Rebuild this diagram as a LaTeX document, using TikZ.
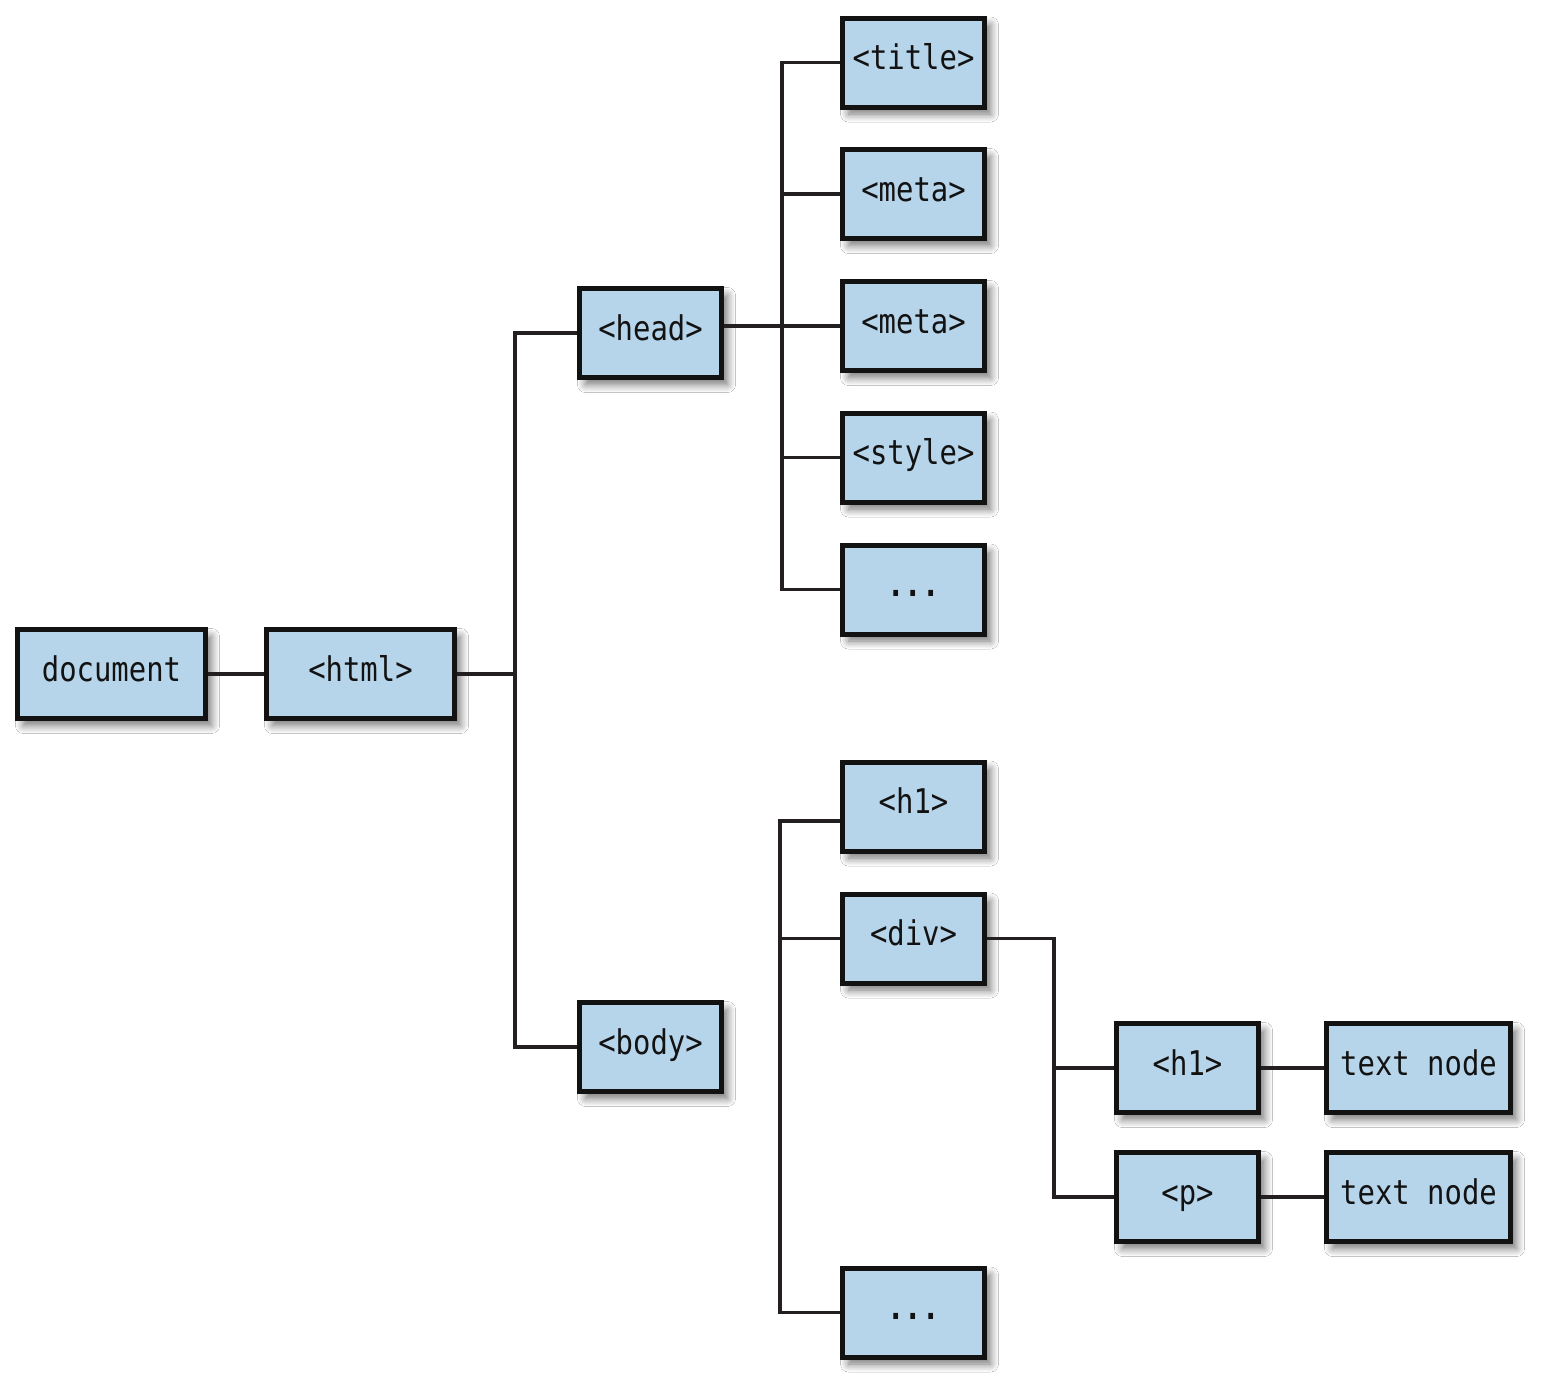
\documentclass[tikz,border=0pt]{standalone}
\usepackage{fontspec}
\newfontfamily\boxfont[FakeStretch=0.85]{DejaVu Sans Mono}
\usetikzlibrary{shadows.blur}
\definecolor{boxfill}{RGB}{182,212,234}
\definecolor{boxline}{RGB}{18,18,18}
\definecolor{conn}{RGB}{35,31,32}
\tikzset{
  domnode/.style={draw=boxline, line width=2.5pt, fill=boxfill, minimum height=44.5pt,
    inner sep=0pt, text height=0.86em, text depth=0.14em,
    font=\boxfont\fontsize{17pt}{20pt}\selectfont, text=boxline,
    blur shadow={shadow xshift=3pt, shadow yshift=-3.5pt, shadow blur radius=4pt, shadow blur steps=10, shadow opacity=55}},
  widebox/.style={domnode, minimum width=94pt},
  midbox/.style={domnode, minimum width=71pt},
  textbox/.style={domnode, minimum width=92pt},
  link/.style={draw=conn, line width=1.6pt}
}
\begin{document}
\begin{tikzpicture}[x=0.5pt, y=-0.5pt]
\fill[white] (0,0) rectangle (1542,1389);
\coordinate (hbus) at (515,0);
\coordinate (headbus) at (782,0);
\coordinate (bodybus) at (780,0);
\coordinate (divbus) at (1054,0);
\node[widebox] (doc) at (111.5,674) {document};
\node[widebox] (html) at (360.5,674) {<html>};
\node[midbox] (head) at (650.5,333) {<head>};
\node[midbox] (body) at (650.5,1047) {<body>};
\node[midbox] (title) at (913.5,62.5) {<title>};
\node[midbox] (meta1) at (913.5,194) {<meta>};
\node[midbox] (meta2) at (913.5,326) {<meta>};
\node[midbox] (style) at (913.5,457.5) {<style>};
\node[midbox] (dots1) at (913.5,589.5) {\bfseries ...};
\node[midbox] (h1) at (913.5,806.5) {<h1>};
\node[midbox] (div) at (913.5,938.5) {<div>};
\node[midbox] (dots2) at (913.5,1312.5) {\bfseries ...};
\node[midbox] (h1b) at (1187.5,1068) {<h1>};
\node[midbox] (p) at (1187.5,1197) {<p>};
\node[textbox] (t1) at (1418.5,1068) {text node};
\node[textbox] (t2) at (1418.5,1197) {text node};
\draw[link] (doc.east) -- (html.west);
\draw[link] (html.east) -- (hbus |- html.east);
\draw[link] (head.west) -| (hbus |- body.west) -- (body.west);
\draw[link] (head.east |- meta2.west) -- (meta2.west);
\draw[link] (title.west) -| (headbus |- dots1.west) -- (dots1.west);
\draw[link] (meta1.west) -- (headbus |- meta1.west);
\draw[link] (style.west) -- (headbus |- style.west);
\draw[link] (h1.west |- 0,821) -| (bodybus |- dots2.west) -- (dots2.west);
\draw[link] (div.west) -- (bodybus |- div.west);
\draw[link] (div.east) -| (divbus |- p.west) -- (p.west);
\draw[link] (h1b.west) -- (divbus |- h1b.west);
\draw[link] (h1b.east) -- (t1.west);
\draw[link] (p.east) -- (t2.west);
\end{tikzpicture}
\end{document}
